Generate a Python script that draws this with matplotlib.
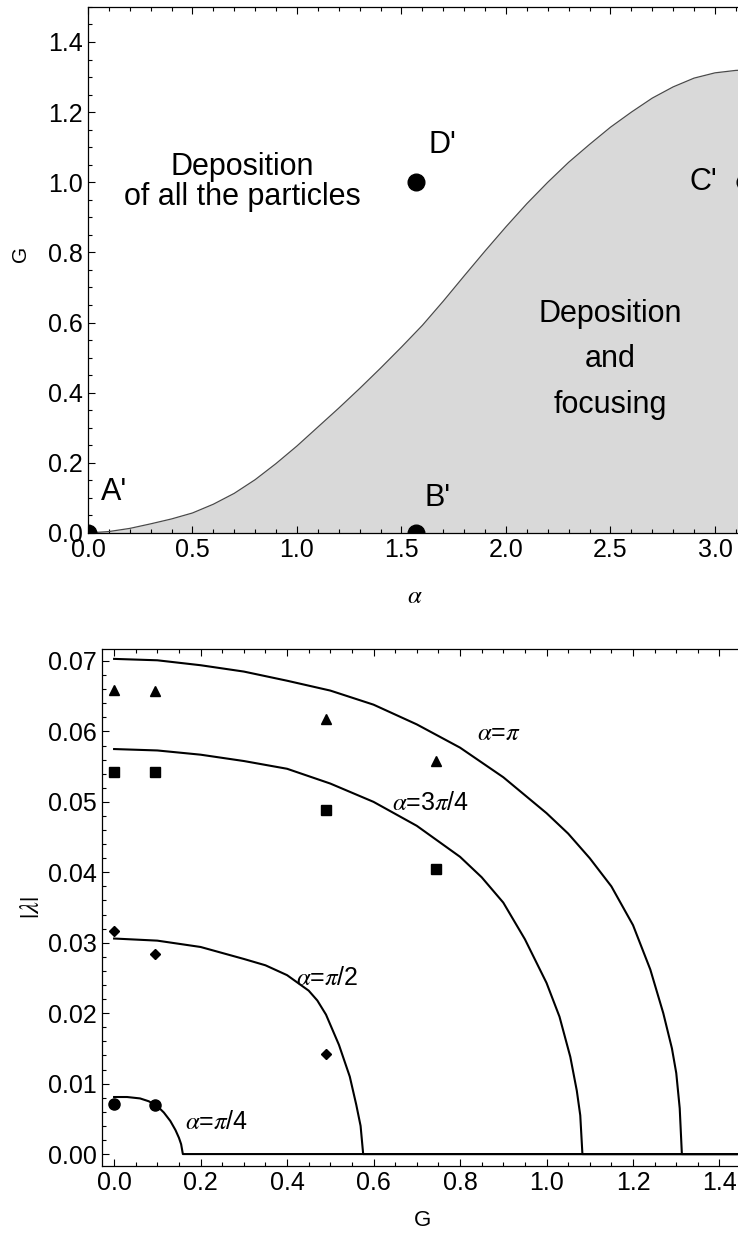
import numpy as np
import matplotlib.pyplot as plt
from matplotlib.ticker import MultipleLocator

plt.rcParams['font.family'] = ['Liberation Sans', 'DejaVu Sans']
plt.rcParams['mathtext.fontset'] = 'stix'

# boundary G(alpha) between the two regimes
alpha_b = [0.0, 0.1, 0.2, 0.3, 0.4, 0.5, 0.6, 0.7, 0.8, 0.9, 1.0, 1.1, 1.2, 1.3,
           1.4, 1.5, 1.6, 1.7, 1.8, 1.9, 2.0, 2.1, 2.2, 2.3, 2.4, 2.5, 2.6, 2.7,
           2.8, 2.9, 3.0, 3.1, 3.1416]
g_b = [0.0, 0.004, 0.013, 0.026, 0.040, 0.057, 0.082, 0.113, 0.152, 0.198,
       0.248, 0.302, 0.356, 0.412, 0.470, 0.530, 0.592, 0.661, 0.733, 0.804,
       0.873, 0.939, 1.000, 1.057, 1.108, 1.157, 1.200, 1.240, 1.272, 1.297,
       1.312, 1.319, 1.320]

# special points in the (alpha, G) plane
pt_alpha = [0.0, np.pi / 2, np.pi, np.pi / 2]
pt_g = [0.0, 0.0, 1.0, 1.0]

# |lambda| vs G, theory curves
g_pi = [0.0, 0.1, 0.2, 0.3, 0.4, 0.5, 0.6, 0.7, 0.8, 0.9, 1.0, 1.05, 1.1, 1.15,
        1.2, 1.24, 1.27, 1.29, 1.30, 1.308, 1.313, 1.44]
lam_pi = [0.0703, 0.0701, 0.0694, 0.0685, 0.0672, 0.0658, 0.0638, 0.0610, 0.0577,
          0.0535, 0.0484, 0.0455, 0.0420, 0.0380, 0.0325, 0.0262, 0.0200, 0.0150,
          0.0115, 0.0065, 0.0, 0.0]
g_3pi4 = [0.0, 0.1, 0.2, 0.3, 0.4, 0.5, 0.6, 0.7, 0.8, 0.85, 0.9, 0.95, 1.0,
          1.03, 1.055, 1.07, 1.078, 1.083, 1.44]
lam_3pi4 = [0.0575, 0.0573, 0.0567, 0.0558, 0.0547, 0.0526, 0.0500, 0.0466,
            0.0422, 0.0393, 0.0357, 0.0305, 0.0243, 0.0195, 0.0138, 0.0090,
            0.0055, 0.0, 0.0]
g_pi2 = [0.0, 0.1, 0.2, 0.3, 0.35, 0.4, 0.45, 0.47, 0.49, 0.52, 0.545, 0.56,
         0.57, 0.576, 1.44]
lam_pi2 = [0.0306, 0.0303, 0.0294, 0.0277, 0.0268, 0.0254, 0.0232, 0.0218,
           0.0198, 0.0155, 0.0110, 0.0070, 0.0040, 0.0, 0.0]
g_pi4 = [0.0, 0.03, 0.06, 0.08, 0.1, 0.115, 0.13, 0.142, 0.15, 0.155, 0.159, 1.44]
lam_pi4 = [0.0081, 0.0081, 0.0079, 0.0075, 0.0068, 0.0059, 0.0047, 0.0034,
           0.0023, 0.0014, 0.0, 0.0]

# simulation points
g_sim = [0.0, 0.095, 0.49, 0.745]
sim_pi = [0.0659, 0.0658, 0.0618, 0.0558]
sim_3pi4 = [0.0543, 0.0542, 0.0488, 0.0405]
sim_pi2 = [0.0316, 0.0284, 0.0142]
sim_pi4 = [0.0071, 0.0070]

fig = plt.figure(figsize=(7.38, 12.36), dpi=100)

# ---- top panel ----
ax1 = fig.add_axes([0.1192, 0.5688, 0.8897, 0.4256])
ax1.fill_between(alpha_b, g_b, 0, color='#d9d9d9', lw=0)
ax1.plot(alpha_b, g_b, color='#4a4a4a', lw=0.9)
ax1.plot(pt_alpha, pt_g, 'o', color='black', ms=12)
ax1.set_xlim(0, np.pi)
ax1.set_ylim(0, 1.5)
ax1.xaxis.set_major_locator(MultipleLocator(0.5))
ax1.xaxis.set_minor_locator(MultipleLocator(0.1))
ax1.yaxis.set_major_locator(MultipleLocator(0.2))
ax1.yaxis.set_minor_locator(MultipleLocator(0.05))
ax1.xaxis.set_major_formatter(lambda v, p: f'{v:.1f}')
ax1.yaxis.set_major_formatter(lambda v, p: f'{v:.1f}')

ax1.text(0.06, 0.117, "A'", fontsize=22, va='center', ha='left')
ax1.text(1.61, 0.10, "B'", fontsize=22, va='center', ha='left')
ax1.text(3.01, 1.0, "C'", fontsize=22, va='center', ha='right')
ax1.text(1.63, 1.105, "D'", fontsize=22, va='center', ha='left')
ax1.text(0.74, 1.0, 'Deposition\nof all the particles', fontsize=22,
         ha='center', va='center', multialignment='center', linespacing=1.0)
ax1.text(2.5, 0.495, 'Deposition\nand\nfocusing', fontsize=22,
         ha='center', va='center', multialignment='center', linespacing=1.68)
ax1.set_xlabel(r'$\alpha$', fontsize=18)
ax1.xaxis.set_label_coords(0.498, -0.097)
ax1.set_ylabel('G', fontsize=15)
ax1.yaxis.set_label_coords(-0.088, 0.53)

# ---- bottom panel ----
ax2 = fig.add_axes([0.1382, 0.0566, 0.8713, 0.4183])
for gx, lam in [(g_pi, lam_pi), (g_3pi4, lam_3pi4), (g_pi2, lam_pi2), (g_pi4, lam_pi4)]:
    ax2.plot(gx, lam, color='black', lw=1.5)
ax2.plot(g_sim, sim_pi, '^', color='black', ms=7)
ax2.plot(g_sim, sim_3pi4, 's', color='black', ms=7)
ax2.plot(g_sim[:3], sim_pi2, 'D', color='black', ms=5.5)
ax2.plot(g_sim[:2], sim_pi4, 'o', color='black', ms=8)
ax2.set_xlim(-0.028, 1.459)
ax2.set_ylim(-0.0017, 0.0717)
ax2.xaxis.set_major_locator(MultipleLocator(0.2))
ax2.xaxis.set_minor_locator(MultipleLocator(0.05))
ax2.yaxis.set_major_locator(MultipleLocator(0.01))
ax2.yaxis.set_minor_locator(MultipleLocator(0.002))
ax2.xaxis.set_major_formatter(lambda v, p: f'{v:.1f}')
ax2.yaxis.set_major_formatter(lambda v, p: f'{v:.2f}')

ax2.text(0.839, 0.0598, r'$\alpha$=$\pi$', fontsize=18, va='center', ha='left')
ax2.text(0.643, 0.0498, r'$\alpha$=3$\pi$/4', fontsize=18, va='center', ha='left')
ax2.text(0.42, 0.0250, r'$\alpha$=$\pi$/2', fontsize=18, va='center', ha='left')
ax2.text(0.164, 0.0045, r'$\alpha$=$\pi$/4', fontsize=18, va='center', ha='left')
ax2.set_xlabel('G', fontsize=16)
ax2.xaxis.set_label_coords(0.498, -0.085)
ax2.set_ylabel(r'$|\lambda|$', fontsize=19)
ax2.yaxis.set_label_coords(-0.09, 0.5)

for ax in (ax1, ax2):
    ax.tick_params(which='both', direction='in', top=True, right=True,
                   labelsize=18, width=0.8)
    ax.tick_params(which='major', length=5)
    ax.tick_params(which='minor', length=3)
    for s in ax.spines.values():
        s.set_linewidth(0.9)

fig.savefig('out.png', dpi=100)
